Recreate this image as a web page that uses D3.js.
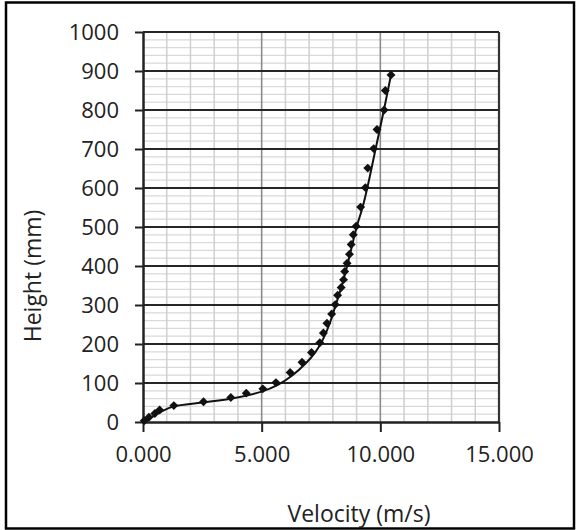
<!DOCTYPE html>
<html>
<head>
<meta charset="utf-8">
<script src="https://cdn.jsdelivr.net/npm/d3@7"></script>
<style>
  body { margin: 0; background: #fff; }
  text { font-family: "Open Sans", sans-serif; fill: #222; }
</style>
</head>
<body>
<div id="chart"></div>
<script>
// measured points (velocity m/s, height mm)
const velocity = [0.05, 0.25, 0.5, 0.7, 1.3, 2.55, 3.7, 4.35, 5.05, 5.6, 6.2, 6.7, 7.1, 7.45, 7.6, 7.75, 7.95, 8.1, 8.2, 8.35, 8.45, 8.5, 8.6, 8.7, 8.77, 8.86, 8.98, 9.17, 9.37, 9.47, 9.72, 9.86, 10.16, 10.21, 10.45];
const height = [3, 12, 22, 31, 42, 52, 63, 74, 85, 101, 127, 153, 178, 203, 228, 253, 277, 301, 325, 345, 365, 386, 407, 430, 455, 480, 502, 551, 601, 651, 701, 750, 800, 850, 890];

// smoothed profile line
const fitVelocity = [0, 0.35, 0.75, 1.3, 2.5, 3.8, 5.0, 5.7, 6.3, 6.85, 7.25, 7.55, 7.85, 8.12, 8.38, 8.6, 8.8, 9.0, 9.25, 9.45, 9.8, 10.15, 10.45];
const fitHeight = [0, 12, 26, 40, 50, 61, 78, 96, 120, 150, 178, 208, 250, 300, 350, 400, 450, 500, 550, 600, 700, 800, 890];

const xTicks = [0, 5, 10, 15];
const yTicks = [0, 100, 200, 300, 400, 500, 600, 700, 800, 900, 1000];

const W = 576, H = 530;
const svg = d3.select("#chart").append("svg")
    .attr("width", W)
    .attr("height", H);

// outer frame
svg.append("rect")
    .attr("x", 6).attr("y", 2.5)
    .attr("width", 568).attr("height", 526)
    .attr("fill", "none")
    .attr("stroke", "#000")
    .attr("stroke-width", 2.5);

const x = d3.scaleLinear().domain([0, 15]).range([143, 499]);
const y = d3.scaleLinear().domain([0, 1000]).range([422, 32]);

const grid = svg.append("g");

// minor horizontal grid, every 20 mm
grid.selectAll(".hminor")
  .data(d3.range(0, 1001, 20).filter(d => d % 100 !== 0))
  .join("line")
    .attr("x1", x(0)).attr("x2", x(15))
    .attr("y1", d => y(d)).attr("y2", d => y(d))
    .attr("stroke", "#d9d9d9").attr("stroke-width", 1.3);

// minor vertical grid, every 1 m/s
grid.selectAll(".vminor")
  .data(d3.range(1, 15).filter(d => d % 5 !== 0))
  .join("line")
    .attr("x1", d => x(d)).attr("x2", d => x(d))
    .attr("y1", y(0)).attr("y2", y(1000))
    .attr("stroke", "#cfcfcf").attr("stroke-width", 1.5);

// major vertical grid
grid.selectAll(".vmajor")
  .data([5, 10])
  .join("line")
    .attr("x1", d => x(d)).attr("x2", d => x(d))
    .attr("y1", y(0)).attr("y2", y(1000))
    .attr("stroke", "#8c8c8c").attr("stroke-width", 1.6);

// major horizontal grid
grid.selectAll(".hmajor")
  .data(yTicks.filter(d => d > 0))
  .join("line")
    .attr("x1", x(0)).attr("x2", x(15))
    .attr("y1", d => y(d)).attr("y2", d => y(d))
    .attr("stroke", "#262626").attr("stroke-width", 2.2);

// right border
svg.append("line")
    .attr("x1", x(15)).attr("x2", x(15))
    .attr("y1", y(0)).attr("y2", y(1000))
    .attr("stroke", "#333").attr("stroke-width", 2.2);

// axes
const xAxis = svg.append("g")
    .attr("transform", `translate(0,${y(0)})`)
    .call(d3.axisBottom(x).tickValues(xTicks).tickFormat(d3.format(".3f")).tickSizeInner(10).tickSizeOuter(0).tickPadding(14));
const yAxis = svg.append("g")
    .attr("transform", `translate(${x(0)},0)`)
    .call(d3.axisLeft(y).tickValues(yTicks).tickFormat(d3.format("d")).tickSizeInner(8).tickSizeOuter(0).tickPadding(16));

[xAxis, yAxis].forEach(a => {
  a.select(".domain").attr("stroke", "#222").attr("stroke-width", 2.5);
  a.selectAll(".tick line").attr("stroke", "#222").attr("stroke-width", 2);
  a.selectAll("text").style("font-size", "22px").attr("fill", "#262626");
});

// profile line
const line = d3.line()
    .x((d, i) => x(fitVelocity[i]))
    .y((d, i) => y(fitHeight[i]))
    .curve(d3.curveCatmullRom.alpha(0.5));
svg.append("path")
    .attr("d", line(fitVelocity))
    .attr("fill", "none")
    .attr("stroke", "#111")
    .attr("stroke-width", 2);

// diamond markers
svg.append("g").selectAll("path")
  .data(velocity)
  .join("path")
    .attr("transform", (d, i) => `translate(${x(d)},${y(height[i])}) rotate(45)`)
    .attr("d", d3.symbol(d3.symbolSquare, 40))
    .attr("fill", "#111");

// axis titles
svg.append("text")
    .attr("x", 359).attr("y", 522)
    .attr("text-anchor", "middle")
    .style("font-size", "23px")
    .text("Velocity (m/s)");

svg.append("text")
    .attr("transform", "translate(41,276) rotate(-90)")
    .attr("text-anchor", "middle")
    .style("font-size", "23px")
    .text("Height (mm)");
</script>
</body>
</html>
